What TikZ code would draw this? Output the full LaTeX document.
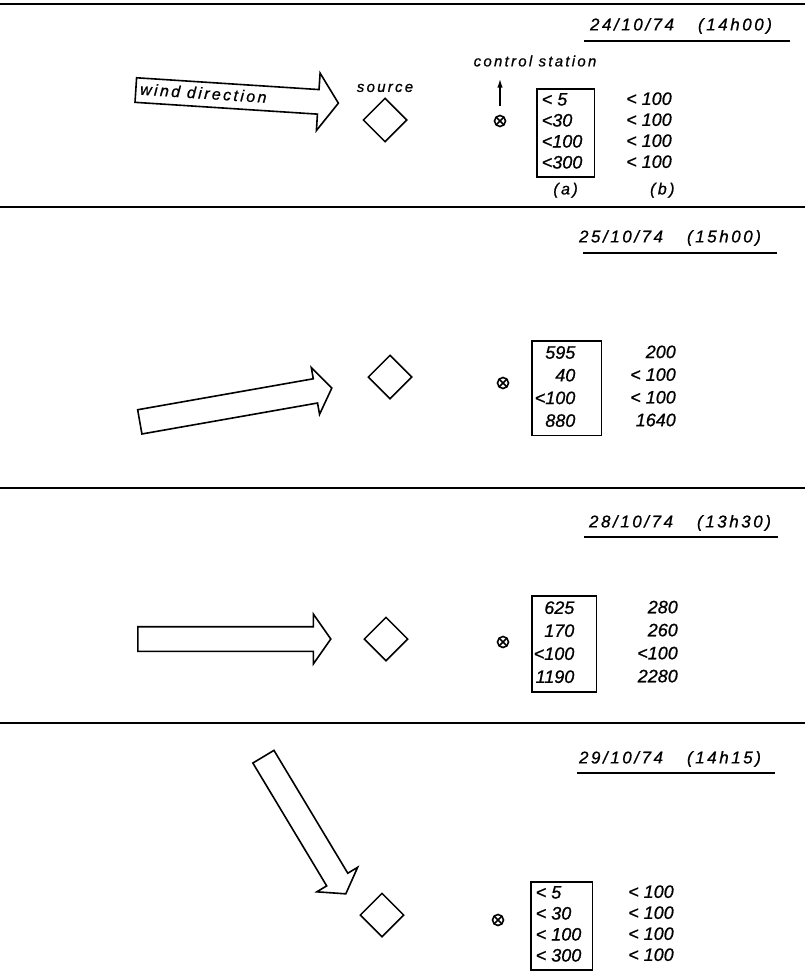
\documentclass[tikz,border=0pt]{standalone}
\usepackage{fontspec}
\setmainfont{Liberation Sans}[FakeBold=0.8]
\newfontfamily\leroy[LetterSpace=15,FakeBold=0.8]{Liberation Sans}
\usetikzlibrary{arrows.meta,positioning,shapes.geometric,shapes.arrows,calc}

\begin{document}
\begin{tikzpicture}[
x=1pt, y=-1pt,
rule/.style={line width=1.8pt},
uline/.style={line width=1.5pt},
date/.style={font=\leroy\itshape\fontsize{17}{20}\selectfont, inner sep=0pt},
lbl/.style={font=\leroy\itshape\fontsize{15}{18}\selectfont, inner sep=0pt},
tag/.style={font=\leroy\itshape\fontsize{16}{18}\selectfont, inner sep=0pt},
wind/.style={draw, line width=1.6pt, single arrow, single arrow head extend=#1,
  single arrow tip angle=110, text height=16pt, text depth=7pt, inner sep=0pt, anchor=tail},
src/.style={draw, diamond, line width=1.5pt, minimum size=44pt, inner sep=0pt},
stn/.style={circle, draw, line width=1.6pt, minimum size=11pt, inner sep=0pt,
  path picture={\draw[line width=1.5pt] (path picture bounding box.north west) -- (path picture bounding box.south east)
    (path picture bounding box.north east) -- (path picture bounding box.south west);}},
vals/.style={font=\itshape\fontsize{18}{#1}\selectfont, inner xsep=0pt, inner ysep=2pt, anchor=north west},
vals/.default=21,
readbox/.style={vals=#1, draw, line width=1.6pt},
readbox/.default=21,
arr/.style={-{Latex[length=9pt,width=5.5pt]}, line width=1.5pt}
]
\useasboundingbox (0,0) rectangle (805,977);

% rules between the four days
\foreach \y in {4,207,488,723}
  \draw[rule] (0,\y) -- (805,\y);

% 24/10/74
\node[date] (date1) at (681,26) {24/10/74\hspace{24pt}(14h00)};
\draw[uline] (584,41) -- (790,41);
\node[wind=16.5pt, minimum height=203pt, rotate=-3.7] (wind1) at (135,90) {};
\node[lbl, font=\leroy\itshape\fontsize{16}{18}\selectfont, anchor=west, rotate=-3.7] (windlbl) at ($(wind1.tail)+(5,-1)$) {wind direction};
\node[src] (src1) at (385,120) {};
\node[lbl, above=5pt of src1] (srclbl) {source};
\node[stn] (stn1) at (500,121) {};
\node[lbl] (ctrl) at (535,61) {control station};
\draw[arr, shorten <=9pt, shorten >=12pt] (stn1.north) -- (stn1.north |- ctrl.south);
\node[readbox=21] (box1) at (536,88)
  {\begin{tabular}{@{\hspace{5pt}}l@{\hspace{12pt}}}< 5\\<30\\<100\\<300\end{tabular}};
\node[vals=21] (colb1) at (626,88)
  {\begin{tabular}{@{}l@{}}< 100\\< 100\\< 100\\< 100\end{tabular}};
\node[tag, below=5pt of box1] (la) {(a)};
\node[tag, right=72pt of la] (lb) {(b)};

% 25/10/74
\node[date] (date2) at (670,238) {25/10/74\hspace{24pt}(15h00)};
\draw[uline] (583,253) -- (777,253);
\node[wind=11.5pt, minimum height=195pt, rotate=10] (wind2) at (139,422) {};
\node[src] (src2) at (390,377) {};
\node[stn] (stn2) at (503,383) {};
\node[readbox=22.7] (box2) at (531,340)
  {\begin{tabular}{@{\hspace{3pt}}r@{\hspace{26pt}}}595\\40\\<100\\880\end{tabular}};
\node[vals=22.7, anchor=north east] (colb2) at (676,340)
  {\begin{tabular}{@{}r@{}}200\\< 100\\< 100\\1640\end{tabular}};

% 28/10/74
\node[date] (date3) at (680,523) {28/10/74\hspace{24pt}(13h30)};
\draw[uline] (584,537) -- (778,537);
\node[wind=12.5pt, minimum height=193pt] (wind3) at (137,639) {};
\node[src] (src3) at (386,639) {};
\node[stn] (stn3) at (503,642) {};
\node[readbox=23] (box3) at (531,595)
  {\begin{tabular}{@{\hspace{2pt}}r@{\hspace{22pt}}}625\\170\\<100\\1190\end{tabular}};
\node[vals=23, anchor=north east] (colb3) at (678,595)
  {\begin{tabular}{@{}r@{}}280\\260\\<100\\2280\end{tabular}};

% 29/10/74
\node[date] (date4) at (670,759) {29/10/74\hspace{24pt}(14h15)};
\draw[uline] (577,773) -- (775,773);
\node[wind=11.5pt, minimum height=160pt, rotate=-59] (wind4) at (263,756) {};
\node[src] (src4) at (382,915) {};
\node[stn] (stn4) at (498,920) {};
\node[readbox=21] (box4) at (530,881)
  {\begin{tabular}{@{\hspace{5pt}}l@{\hspace{11pt}}}< 5\\< 30\\< 100\\< 300\end{tabular}};
\node[vals=21] (colb4) at (628,881)
  {\begin{tabular}{@{}l@{}}< 100\\< 100\\< 100\\< 100\end{tabular}};
\end{tikzpicture}
\end{document}
